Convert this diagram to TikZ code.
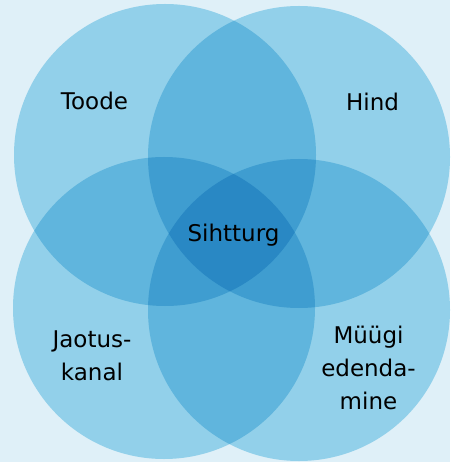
\documentclass[tikz,border=0pt]{standalone}
\usepackage{fontspec}
\setmainfont{DejaVu Sans}
\usepackage{xcolor}
\usetikzlibrary{positioning}
\definecolor{bgblue}{RGB}{223,240,248}
\definecolor{vennblue}{RGB}{168,222,241}
\tikzstyle{venn} = [fill=vennblue, draw=none, blend mode=multiply]
\tikzstyle{label} = [text=black, align=center, inner sep=0pt, font=\fontsize{23}{33}\selectfont]

\begin{document}
\begin{tikzpicture}[x=1pt, y=-1pt]
    % taust
    \fill[bgblue] (0,0) rectangle (450,462);
    \useasboundingbox (0,0) rectangle (450,462);

    % ringid
    \fill[venn] (165,155) circle (151);
    \fill[venn] (299,157) circle (151);
    \fill[venn] (164,308) circle (151);
    \fill[venn] (299,310) circle (151);

    % tekstid
    \node (toode) [label, anchor=base] at (94.5,110) {Toode};
    \node (hind) [label, anchor=base] at (372.5,111) {Hind};
    \node (sihtturg) [label, anchor=base] at (233.5,241) {Sihtturg};
    \node (jaotus) [label, text depth=0pt] at (92,356) {Jaotus-\\kanal};
    \node (myygi) [label] at (368.5,368) {Müügi\\edenda-\\mine};
\end{tikzpicture}
\end{document}
